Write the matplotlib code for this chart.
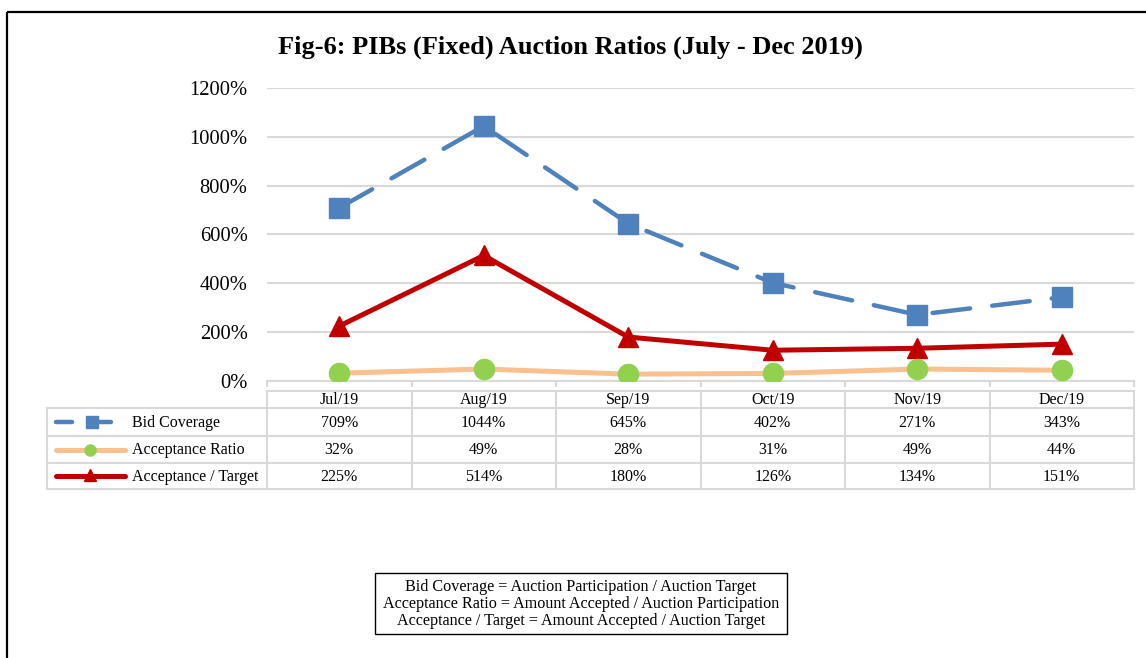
import matplotlib
matplotlib.use("Agg")
import matplotlib.pyplot as plt
from matplotlib.lines import Line2D
from matplotlib.patches import Rectangle

plt.rcParams['font.family'] = ['Liberation Serif', 'DejaVu Serif']

months = ["Jul/19", "Aug/19", "Sep/19", "Oct/19", "Nov/19", "Dec/19"]
bid_coverage = [709, 1044, 645, 402, 271, 343]
acceptance_ratio = [32, 49, 28, 31, 49, 44]
acceptance_target = [225, 514, 180, 126, 134, 151]
series_names = ["Bid Coverage", "Acceptance Ratio", "Acceptance / Target"]
y_ticks = [0, 200, 400, 600, 800, 1000, 1200]
title = "Fig-6: PIBs (Fixed) Auction Ratios (July - Dec 2019)"
notes = ["Bid Coverage = Auction Participation / Auction Target",
         "Acceptance Ratio = Amount Accepted / Auction Participation",
         "Acceptance / Target = Amount Accepted / Auction Target"]

W, H = 1146, 658
fig = plt.figure(figsize=(W / 100, H / 100), dpi=100)

BLUE = "#4F81BD"
PEACH = "#FAC090"
GREEN = "#92D050"
RED = "#C00000"
GRID = "#D9D9D9"

x0, x1 = 267, 1134
ybot, ytop = 381, 88
ax = fig.add_axes([x0 / W, 1 - ybot / H, (x1 - x0) / W, (ybot - ytop) / H])
xs = list(range(len(months)))
ax.plot(xs, bid_coverage, color=BLUE, lw=3.2, ls=(0, (8.5, 5)), dash_capstyle='round',
        marker='s', ms=14, mec=BLUE, mfc=BLUE, zorder=3)
ax.plot(xs, acceptance_target, color=RED, lw=3.6, marker='^', ms=14.5, mec=RED, mfc=RED, zorder=3)
ax.plot(xs, acceptance_ratio, color=PEACH, lw=3.6, marker='o', ms=14.5, mec=GREEN, mfc=GREEN, zorder=4)
ax.set_xlim(-0.5, len(months) - 0.5)
ax.set_ylim(0, 1200)
ax.set_yticks(y_ticks)
ax.set_yticklabels([f"{v}%" for v in y_ticks], fontsize=14.8)
ax.tick_params(axis='y', length=0, pad=14)
ax.set_xticks([i - 0.5 for i in range(len(months) + 1)])
ax.set_xticklabels([])
ax.tick_params(axis='x', length=4, color=GRID, width=1.5, direction='out')
ax.grid(axis='y', color=GRID, lw=1.5)
ax.set_axisbelow(True)
for s in ['top', 'right', 'left']:
    ax.spines[s].set_visible(False)
ax.spines['bottom'].set_color(GRID)
ax.spines['bottom'].set_linewidth(1.5)

# overlay in pixel coordinates
ov2 = fig.add_axes([0, 0, 1, 1], zorder=5)
ov2.set_xlim(0, W)
ov2.set_ylim(H, 0)
ov2.axis('off')
ov2.patch.set_alpha(0)

# outer border
ov2.add_patch(Rectangle((7, 12), W + 20, H + 20, fill=False, ec='black', lw=1.6))

ov2.text(570, 47, title, fontsize=19, fontweight='bold', ha='center', va='center')

# table
colw = (x1 - x0) / len(months)
lx = 47
h_top, rows = 391, [408, 436, 463, 489]
for k in range(len(months) + 1):
    xx = x0 + k * colw
    ov2.add_line(Line2D([xx, xx], [h_top, rows[-1]], color=GRID, lw=1.5))
ov2.add_line(Line2D([lx, lx], [rows[0], rows[-1]], color=GRID, lw=1.5))
ov2.add_line(Line2D([x0, x1], [h_top, h_top], color=GRID, lw=1.5))
for r in rows:
    ov2.add_line(Line2D([lx, x1], [r, r], color=GRID, lw=1.5))
for k, m in enumerate(months):
    cx = x0 + (k + 0.5) * colw
    ov2.text(cx, (h_top + rows[0]) / 2 + 1, m, fontsize=11.5, ha='center', va='center')
data_rows = [bid_coverage, acceptance_ratio, acceptance_target]
for r, vals in enumerate(data_rows):
    cy = (rows[r] + rows[r + 1]) / 2 + 1
    for k, v in enumerate(vals):
        cx = x0 + (k + 0.5) * colw
        ov2.text(cx, cy, f"{v}%", fontsize=11.5, ha='center', va='center')
    ov2.text(132, cy, series_names[r], fontsize=11.5, ha='left', va='center')

# legend keys
ly = [(rows[i] + rows[i + 1]) / 2 for i in range(3)]
ov2.add_line(Line2D([56, 72], [ly[0], ly[0]], color=BLUE, lw=3.2, solid_capstyle='round'))
ov2.add_line(Line2D([88, 111], [ly[0], ly[0]], color=BLUE, lw=3.2, solid_capstyle='round'))
ov2.add_line(Line2D([92], [ly[0]], color=BLUE, marker='s', ms=8, mec=BLUE, mfc=BLUE))
ov2.add_line(Line2D([56, 125], [ly[1], ly[1]], color=PEACH, lw=3.6, solid_capstyle='round'))
ov2.add_line(Line2D([90], [ly[1]], marker='o', ms=8, mec=GREEN, mfc=GREEN))
ov2.add_line(Line2D([56, 125], [ly[2], ly[2]], color=RED, lw=3.6, solid_capstyle='round'))
ov2.add_line(Line2D([90], [ly[2] - 1], marker='^', ms=8, mec=RED, mfc=RED))

# notes box
ov2.add_patch(Rectangle((375, 573), 412, 61, fill=False, ec='black', lw=1.0))
for i, t in enumerate(notes):
    ov2.text(581, 587 + i * 17, t, fontsize=11.6, ha='center', va='center')

fig.savefig("out.png", dpi=100)
